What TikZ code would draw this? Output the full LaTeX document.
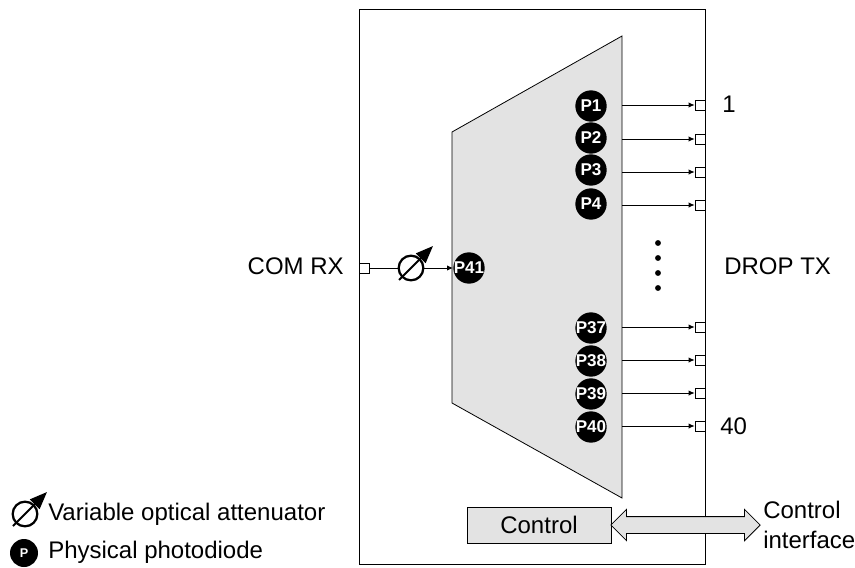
\documentclass[tikz,border=0pt]{standalone}
\usepackage{fontspec}
\setmainfont{Liberation Sans}
\usetikzlibrary{arrows.meta,shapes.arrows}
\tikzset{
  diode/.style={circle,fill=black,text=white,inner sep=0pt,minimum size=23.5pt,font=\fontsize{12.8}{14}\selectfont\bfseries},
  port/.style={draw,fill=white,line width=0.5pt,inner sep=0pt,minimum size=7.5pt},
  fibre/.style={line width=0.7pt,-{Latex[length=4.5pt,width=4pt]}},
  lbl/.style={inner sep=0pt,font=\fontsize{18}{22}\selectfont},
  pics/attenuator/.style={code={
    \node[circle,draw,line width=1.7pt,inner sep=0pt,minimum size=18.5pt] (-ring) {};
    \draw[line width=1.4pt,-{Triangle[length=13pt,width=10pt]}] (-12,12) -- (22,-22);
  }}
}
\begin{document}
\begin{tikzpicture}[x=0.75pt,y=-0.75pt]
\useasboundingbox (0,0) rectangle (855,567);
\draw[line width=0.7pt] (359,9) rectangle (705,564);
\draw[line width=0.6pt,fill=black!11] (452,132) -- (622,36) -- (622,498) -- (452,403) -- cycle;
% drop side
\foreach \n/\yp/\yd in {1/105/106,2/139/138,3/172/170,4/205/204,37/327/328,38/360/361,39/393/394,40/426/427}
{
  \node[diode] (P\n) at (591,\yd) {\makebox[0pt]{P\n}};
  \node[port] (out\n) at (700,\yp) {};
  \coordinate (edge\n) at (622,\yp);
  \draw[fibre] (edge\n) -- (out\n);
}
\foreach \yd in {243,258,273,288}
  \fill (658,\yd) circle (2.2pt);
% com side
\node[port] (com) at (364,268) {};
\node[diode] (P41) at (469,268) {\makebox[0pt]{P41}};
\pic (voa) at (411,268) {attenuator};
\draw[line width=0.7pt] (com) -- (voa-ring);
\draw[fibre] (voa-ring) -- (P41);
\node[lbl,anchor=east] (comlabel) at (344,266) {COM RX};
\node[lbl,anchor=west] (droplabel) at (724,266) {DROP TX};
\node[lbl,anchor=west] (first) at (722,104) {1};
\node[lbl,anchor=west] (last) at (720,426) {40};
% control
\node[draw,fill=black!11,line width=0.6pt,lbl,minimum width=108pt,minimum height=27pt] (ctrl) at (539,525) {Control};
\node[double arrow,draw,fill=black!11,line width=0.6pt,inner xsep=0pt,inner ysep=6pt,minimum height=112pt,minimum width=23pt,double arrow head extend=5.5pt] (link) at (685.5,525) {};
\node[lbl,anchor=west,align=left,font=\fontsize{18}{22.5}\selectfont] (iface) at (763,525) {Control\\interface};
% legend
\pic (key) at (25,514) {attenuator};
\node[lbl,anchor=west] (keyvoa) at (48,514) {Variable optical attenuator};
\node[diode,minimum size=21pt,font=\fontsize{9.5}{11}\selectfont\bfseries] (keyp) at (24,553) {P};
\node[lbl,anchor=west] (keyphoto) at (48,552) {Physical photodiode};
\end{tikzpicture}
\end{document}
